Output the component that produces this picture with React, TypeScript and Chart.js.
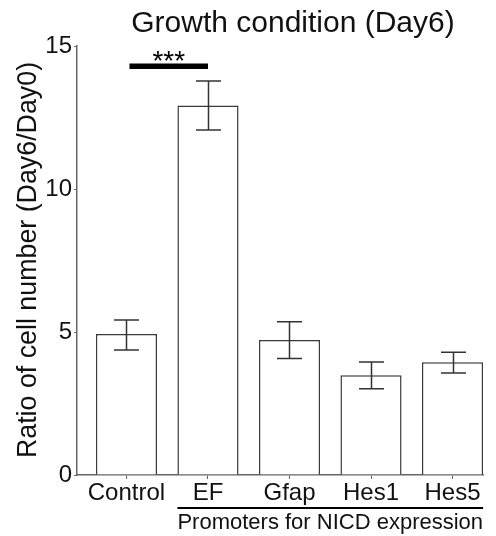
import React, { useEffect, useRef } from "react";
import { Chart, registerables } from "chart.js";

Chart.register(...registerables);

const categories = ["Control", "EF", "Gfap", "Hes1", "Hes5"];
const means = [4.93, 12.92, 4.72, 3.49, 3.94];
const errLow = [4.37, 12.06, 4.07, 3.02, 3.57];
const errHigh = [5.42, 13.78, 5.36, 3.95, 4.29];
const yTickValues = [0, 5, 10, 15];
const titleText = "Growth condition (Day6)";
const yTitleText = "Ratio of cell number (Day6/Day0)";
const groupLabel = "Promoters for NICD expression";
const groupFrom = 1;
const groupTo = 4;
const sigFrom = 0;
const sigTo = 1;
const sigLabel = "***";

const FONT = "'Liberation Sans', Arial, Helvetica, sans-serif";

const annotations = {
  id: "annotations",
  afterDatasetsDraw(chart: any) {
    const ctx = chart.ctx;
    const xs = chart.scales.x;
    const ys = chart.scales.y;
    const meta = chart.getDatasetMeta(0);
    ctx.save();
    // error bars
    ctx.strokeStyle = "#333333";
    ctx.lineWidth = 1.5;
    const cap = 12.5;
    means.forEach((_, i) => {
      const cx = Math.round(xs.getPixelForValue(i)) + 0.5;
      const top = ys.getPixelForValue(errHigh[i]);
      const bot = ys.getPixelForValue(errLow[i]);
      ctx.beginPath();
      ctx.moveTo(cx, top);
      ctx.lineTo(cx, bot);
      ctx.moveTo(cx - cap, top);
      ctx.lineTo(cx + cap, top);
      ctx.moveTo(cx - cap, bot);
      ctx.lineTo(cx + cap, bot);
      ctx.stroke();
    });

    // title
    ctx.fillStyle = "#111111";
    ctx.textAlign = "center";
    ctx.textBaseline = "middle";
    ctx.font = `30px ${FONT}`;
    ctx.fillText(titleText, 293, 24);

    // significance bar
    const sx1 = xs.getPixelForValue(sigFrom) + 3;
    const sx2 = xs.getPixelForValue(sigTo);
    ctx.fillStyle = "#000000";
    ctx.fillRect(sx1, 63.5, sx2 - sx1, 5.5);
    ctx.font = `28px ${FONT}`;
    ctx.textBaseline = "middle";
    ctx.fillText(sigLabel, (sx1 + sx2) / 2, 62);

    // group line + label
    const bw = meta.data[0] ? meta.data[0].width : 61;
    const gx1 = xs.getPixelForValue(groupFrom) - bw / 2;
    const gx2 = xs.getPixelForValue(groupTo) + bw / 2;
    ctx.fillRect(gx1, 507, gx2 - gx1, 2);
    ctx.font = `22px ${FONT}`;
    ctx.fillStyle = "#111111";
    ctx.textBaseline = "middle";
    ctx.fillText(groupLabel, (gx1 + gx2) / 2, 523);

    // y title
    ctx.translate(29, 260);
    ctx.rotate(-Math.PI / 2);
    ctx.font = `26.8px ${FONT}`;
    ctx.fillText(yTitleText, 0, 0);
    ctx.restore();
  },
};

export default function App() {
  const ref = useRef<HTMLCanvasElement | null>(null);
  useEffect(() => {
    document.body.style.margin = "0";
    const canvas = ref.current;
    if (!canvas) return;
    const chart = new Chart(canvas, {
      type: "bar",
      data: {
        datasets: [
          {
            data: means.map((v, i) => ({ x: i, y: v })),
            backgroundColor: "#ffffff",
            borderColor: "#3a3a3a",
            borderWidth: 1.5,
            barPercentage: 0.75,
            categoryPercentage: 1,
          },
        ],
      },
      options: {
        responsive: false,
        animation: false,
        devicePixelRatio: 1,
        layout: { padding: { top: 46, right: 13, left: 0, bottom: 0 } },
        plugins: {
          legend: { display: false },
          title: { display: false },
          tooltip: { enabled: false },
        },
        scales: {
          x: {
            type: "linear",
            offset: false,
            min: -0.607,
            max: 4.374,
            afterBuildTicks: (s: any) => {
              s.ticks = categories.map((_, i) => ({ value: i }));
            },
            afterFit: (s: any) => {
              s.height = 61;
            },
            grid: {
              display: true,
              offset: false,
              drawOnChartArea: false,
              drawTicks: true,
              tickLength: 4,
              color: "#666666",
              lineWidth: 1,
            },
            border: { display: true, color: "#666666", width: 1.5 },
            ticks: {
              padding: 0,
              autoSkip: false,
              maxRotation: 0,
              color: "#111111",
              font: { family: FONT, size: 24 },
              callback: (v: any) => categories[Math.round(Number(v))] ?? "",
            },
          },
          y: {
            min: 0,
            max: 15,
            afterBuildTicks: (s: any) => {
              s.ticks = yTickValues.map((v) => ({ value: v }));
            },
            afterFit: (s: any) => {
              s.width = 77;
            },
            grid: {
              display: true,
              drawOnChartArea: false,
              drawTicks: true,
              tickLength: 3,
              color: "#666666",
              lineWidth: 1,
            },
            border: { display: true, color: "#666666", width: 1.5 },
            ticks: {
              padding: 2,
              color: "#111111",
              font: { family: FONT, size: 24 },
            },
          },
        },
      },
      plugins: [annotations],
    });
    return () => chart.destroy();
  }, []);
  return (
    <div style={{ width: 496, height: 536 }}>
      <canvas ref={ref} width={496} height={536} style={{ display: "block" }} />
    </div>
  );
}
